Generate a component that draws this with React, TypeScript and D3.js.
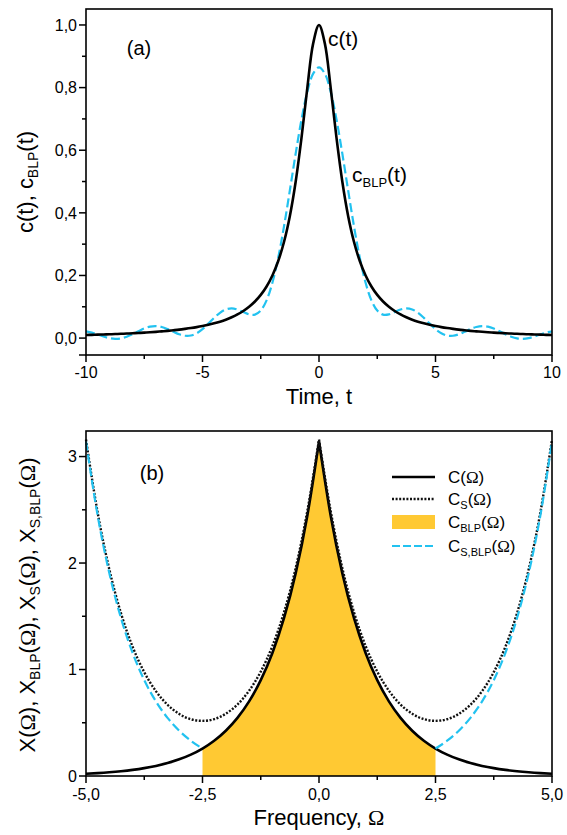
import React from "react";
import * as d3 from "d3";

// ---------- Data ----------
const timeTicks = [-10, -5, 0, 5, 10];
const timeMinor = [-7.5, -2.5, 2.5, 7.5];
const cTicks = [0, 0.2, 0.4, 0.6, 0.8, 1.0];
const cMinor = [0.1, 0.3, 0.5, 0.7, 0.9];

// t grid: -10 .. 10, step 0.25
const tGrid = d3.range(-10, 10.0001, 0.25);
const cValues = [
  0.0099, 0.0104, 0.011, 0.0116, 0.0122, 0.0129, 0.0137, 0.0145, 0.0154, 0.0164,
  0.0175, 0.0187, 0.02, 0.0215, 0.0231, 0.025, 0.027, 0.0294, 0.032, 0.035,
  0.0385, 0.0424, 0.0471, 0.0525, 0.0588, 0.0664, 0.0755, 0.0865, 0.1, 0.1168,
  0.1379, 0.1649, 0.2, 0.2462, 0.3077, 0.3902, 0.5, 0.64, 0.8, 0.9412,
  1.0,
  0.9412, 0.8, 0.64, 0.5, 0.3902, 0.3077, 0.2462, 0.2, 0.1649, 0.1379,
  0.1168, 0.1, 0.0865, 0.0755, 0.0664, 0.0588, 0.0525, 0.0471, 0.0424, 0.0385,
  0.035, 0.032, 0.0294, 0.027, 0.025, 0.0231, 0.0215, 0.02, 0.0187, 0.0175,
  0.0164, 0.0154, 0.0145, 0.0137, 0.0129, 0.0122, 0.0116, 0.011, 0.0104, 0.0099,
];
const cBLPValues = [
  0.0216, 0.0176, 0.0116, 0.0052, -0.0001, -0.0024, -0.0009, 0.0044, 0.0126, 0.0219,
  0.0308, 0.0367, 0.0384, 0.0355, 0.0288, 0.0202, 0.0122, 0.0074, 0.0082, 0.0154,
  0.0287, 0.0461, 0.0647, 0.0808, 0.0915, 0.0949, 0.0913, 0.0832, 0.0757, 0.0749,
  0.0879, 0.1206, 0.1767, 0.2569, 0.3577, 0.472, 0.5897, 0.6987, 0.7871, 0.8447,
  0.8647,
  0.8447, 0.7871, 0.6987, 0.5897, 0.472, 0.3577, 0.2569, 0.1767, 0.1206, 0.0879,
  0.0749, 0.0757, 0.0832, 0.0913, 0.0949, 0.0915, 0.0808, 0.0647, 0.0461, 0.0287,
  0.0154, 0.0082, 0.0074, 0.0122, 0.0202, 0.0288, 0.0355, 0.0384, 0.0367, 0.0308,
  0.0219, 0.0126, 0.0044, -0.0009, -0.0024, -0.0001, 0.0052, 0.0116, 0.0176, 0.0216,
];

const freqTicks = [-5, -2.5, 0, 2.5, 5];
const freqMinor = [-3.75, -1.25, 1.25, 3.75];
const xTicks = [0, 1, 2, 3];
const xMinor = [0.5, 1.5, 2.5];

// Ω grid: -5 .. 5, step 0.25
const wGrid = d3.range(-5, 5.0001, 0.25);
const CValues = [
  0.0212, 0.0272, 0.0349, 0.0448, 0.0575, 0.0739, 0.0949, 0.1218, 0.1564, 0.2008,
  0.2579, 0.3311, 0.4252, 0.5459, 0.701, 0.9001, 1.1557, 1.484, 1.9055, 2.4467,
  3.1416,
  2.4467, 1.9055, 1.484, 1.1557, 0.9001, 0.701, 0.5459, 0.4252, 0.3311, 0.2579,
  0.2008, 0.1564, 0.1218, 0.0949, 0.0739, 0.0575, 0.0448, 0.0349, 0.0272, 0.0212,
];
const CsValues = [
  3.16, 2.474, 1.941, 1.529, 1.214, 0.975, 0.797, 0.669, 0.583, 0.533,
  0.518, 0.534, 0.585, 0.671, 0.801, 0.98, 1.221, 1.539, 1.953, 2.49,
  3.16,
  2.49, 1.953, 1.539, 1.221, 0.98, 0.801, 0.671, 0.585, 0.534, 0.518,
  0.533, 0.583, 0.669, 0.797, 0.975, 1.214, 1.529, 1.941, 2.474, 3.16,
];
const wBLPLeft = [-5, -4.75, -4.5, -4.25, -4, -3.75, -3.5, -3.25, -3, -2.75, -2.5];
const CsBLPLeft = [3.1416, 2.4467, 1.9055, 1.484, 1.1557, 0.9001, 0.701, 0.5459, 0.4252, 0.3311, 0.2579];
const wBLPRight = [2.5, 2.75, 3, 3.25, 3.5, 3.75, 4, 4.25, 4.5, 4.75, 5];
const CsBLPRight = [0.2579, 0.3311, 0.4252, 0.5459, 0.701, 0.9001, 1.1557, 1.484, 1.9055, 2.4467, 3.1416];
const blpBand = [-2.5, 2.5];

const legendLabels = [
  { main: "C", sub: "" },
  { main: "C", sub: "S" },
  { main: "C", sub: "BLP" },
  { main: "C", sub: "S,BLP" },
];

// ---------- Styles ----------
const FONT = "'Liberation Sans', Arial, sans-serif";
const SERIF = "'Liberation Serif', 'DejaVu Serif', serif";
const CYAN = "#22c2f0";
const YELLOW = "#ffc933";
const DOTS = "2,1.6";

const fmtComma = (v: number) => d3.format(".1f")(v).replace(".", ",").replace("−", "-");

export default function App() {
  const xL = 86, xR = 552;
  const topY0 = 9, topY1 = 355;
  const botY0 = 431, botY1 = 776;

  const xt = d3.scaleLinear().domain([-10, 10]).range([xL, xR]);
  const yc = d3.scaleLinear().domain([-0.054, 1.051]).range([topY1, topY0]);
  const xw = d3.scaleLinear().domain([-5, 5]).range([xL, xR]);
  const yw = d3.scaleLinear().domain([0, 3.24]).range([botY1, botY0]);

  const tLine = d3
    .line<[number, number]>()
    .x((d) => xt(d[0]))
    .y((d) => yc(d[1]))
    .curve(d3.curveCatmullRom);

  const cPts = tGrid.map((t, i) => [t, cValues[i]] as [number, number]);
  const cBLPPts = tGrid.map((t, i) => [t, cBLPValues[i]] as [number, number]);

  const wLine = d3
    .line<[number, number]>()
    .x((d) => xw(d[0]))
    .y((d) => yw(d[1]))
    .curve(d3.curveMonotoneX);

  const splitHalves = (vals: number[]) => {
    const pts = wGrid.map((w, i) => [w, vals[i]] as [number, number]);
    return [pts.filter((p) => p[0] <= 0.0001), pts.filter((p) => p[0] >= -0.0001)];
  };
  const CHalves = splitHalves(CValues);
  const CsHalves = splitHalves(CsValues);

  const area = d3
    .area<[number, number]>()
    .x((d) => xw(d[0]))
    .y0(yw(0))
    .y1((d) => yw(d[1]))
    .curve(d3.curveMonotoneX);
  const bandHalves = CHalves.map((h) =>
    h.filter((p) => p[0] >= blpBand[0] - 1e-6 && p[0] <= blpBand[1] + 1e-6)
  );

  const blpL = wBLPLeft.map((w, i) => [w, CsBLPLeft[i]] as [number, number]);
  const blpR = wBLPRight.map((w, i) => [w, CsBLPRight[i]] as [number, number]);

  const tickMajor = 7, tickMinor = 4;
  const legendX0 = 392, legendX1 = 435, legendTX = 448;
  const legendRows = [477, 499, 522, 546];

  return (
    <svg
      width={567}
      height={835}
      style={{ position: "absolute", left: 0, top: 0, background: "#fff" }}
      fontFamily={FONT}
    >
      <rect x={0} y={0} width={567} height={835} fill="#fff" />

      {/* ---------------- Panel (a) ---------------- */}
      <path d={tLine(cBLPPts) || ""} fill="none" stroke={CYAN} strokeWidth={2.2} strokeDasharray="9,4" />
      <path d={tLine(cPts) || ""} fill="none" stroke="#000" strokeWidth={2.6} />
      <rect x={xL} y={topY0} width={xR - xL} height={topY1 - topY0} fill="none" stroke="#000" strokeWidth={1.6} />

      {timeTicks.map((t) => (
        <g key={"tt" + t}>
          <line x1={xt(t)} x2={xt(t)} y1={topY1} y2={topY1 + tickMajor} stroke="#000" strokeWidth={1.5} />
          <text x={xt(t)} y={topY1 + 23} fontSize={16} textAnchor="middle">{d3.format("d")(t).replace("−", "-")}</text>
        </g>
      ))}
      {timeMinor.map((t) => (
        <line key={"tm" + t} x1={xt(t)} x2={xt(t)} y1={topY1} y2={topY1 + tickMinor} stroke="#000" strokeWidth={1.5} />
      ))}
      {cTicks.map((v) => (
        <g key={"ct" + v}>
          <line x1={xL - tickMajor} x2={xL} y1={yc(v)} y2={yc(v)} stroke="#000" strokeWidth={1.5} />
          <text x={xL - 9} y={yc(v)} dy="0.36em" fontSize={16} textAnchor="end">{fmtComma(v)}</text>
        </g>
      ))}
      {cMinor.map((v) => (
        <line key={"cm" + v} x1={xL - tickMinor} x2={xL} y1={yc(v)} y2={yc(v)} stroke="#000" strokeWidth={1.5} />
      ))}
      <line x1={xL - tickMajor} x2={xL} y1={topY1} y2={topY1} stroke="#000" strokeWidth={1.5} />

      <text x={319} y={404} fontSize={22} textAnchor="middle">Time, t</text>
      <text transform="translate(33,182) rotate(-90)" fontSize={22} textAnchor="middle">
        c(t), c<tspan fontSize={14} dy={5}>BLP</tspan><tspan dy={-5}>(t)</tspan>
      </text>
      <text x={139} y={55} fontSize={20} textAnchor="middle">(a)</text>
      <text x={328} y={46} fontSize={21}>c(t)</text>
      <text x={352} y={182} fontSize={21}>
        c<tspan fontSize={13} dy={5}>BLP</tspan><tspan dy={-5}>(t)</tspan>
      </text>

      {/* ---------------- Panel (b) ---------------- */}
      {bandHalves.map((h, i) => (
        <path key={"band" + i} d={area(h) || ""} fill={YELLOW} stroke="none" />
      ))}
      {CHalves.map((h, i) => (
        <path key={"C" + i} d={wLine(h) || ""} fill="none" stroke="#000" strokeWidth={2.6} />
      ))}
      {CsHalves.map((h, i) => (
        <path key={"Cs" + i} d={wLine(h) || ""} fill="none" stroke="#111" strokeWidth={2.4} strokeDasharray={DOTS} />
      ))}
      <path d={wLine(blpL) || ""} fill="none" stroke={CYAN} strokeWidth={2.2} strokeDasharray="9,4" />
      <path d={wLine(blpR) || ""} fill="none" stroke={CYAN} strokeWidth={2.2} strokeDasharray="9,4" />
      <rect x={xL} y={botY0} width={xR - xL} height={botY1 - botY0} fill="none" stroke="#000" strokeWidth={1.6} />

      {freqTicks.map((w) => (
        <g key={"ft" + w}>
          <line x1={xw(w)} x2={xw(w)} y1={botY1} y2={botY1 + tickMajor} stroke="#000" strokeWidth={1.5} />
          <text x={xw(w)} y={botY1 + 24} fontSize={16} textAnchor="middle">{fmtComma(w)}</text>
        </g>
      ))}
      {freqMinor.map((w) => (
        <line key={"fm" + w} x1={xw(w)} x2={xw(w)} y1={botY1} y2={botY1 + tickMinor} stroke="#000" strokeWidth={1.5} />
      ))}
      {xTicks.map((v) => (
        <g key={"xt" + v}>
          <line x1={xL - tickMajor} x2={xL} y1={yw(v)} y2={yw(v)} stroke="#000" strokeWidth={1.5} />
          <text x={xL - 9} y={yw(v)} dy="0.36em" fontSize={16} textAnchor="end">{String(v)}</text>
        </g>
      ))}
      {xMinor.map((v) => (
        <line key={"xm" + v} x1={xL - tickMinor} x2={xL} y1={yw(v)} y2={yw(v)} stroke="#000" strokeWidth={1.5} />
      ))}

      <text x={319} y={825} fontSize={22} textAnchor="middle">
        Frequency, <tspan fontFamily={SERIF}>Ω</tspan>
      </text>
      <text transform="translate(35,605) rotate(-90)" fontSize={22} textAnchor="middle">
        X(<tspan fontFamily={SERIF}>Ω</tspan>), X<tspan fontSize={14} dy={5}>BLP</tspan>
        <tspan dy={-5}>(</tspan><tspan fontFamily={SERIF}>Ω</tspan>), X<tspan fontSize={14} dy={5}>S</tspan>
        <tspan dy={-5}>(</tspan><tspan fontFamily={SERIF}>Ω</tspan>), X<tspan fontSize={14} dy={5}>S,BLP</tspan>
        <tspan dy={-5}>(</tspan><tspan fontFamily={SERIF}>Ω</tspan>)
      </text>
      <text x={152} y={480} fontSize={20} textAnchor="middle">(b)</text>

      {/* Legend */}
      <line x1={legendX0} x2={legendX1} y1={legendRows[0]} y2={legendRows[0]} stroke="#000" strokeWidth={2.6} />
      <line x1={legendX0} x2={legendX1} y1={legendRows[1]} y2={legendRows[1]} stroke="#111" strokeWidth={2.4} strokeDasharray={DOTS} />
      <rect x={legendX0} y={legendRows[2] - 7} width={legendX1 - legendX0} height={14} fill={YELLOW} />
      <line x1={legendX0} x2={legendX1} y1={legendRows[3]} y2={legendRows[3]} stroke={CYAN} strokeWidth={2.2} strokeDasharray="8,3" />
      {legendLabels.map((l, i) => (
        <text key={"lg" + i} x={legendTX} y={legendRows[i] + 6} fontSize={17}>
          {l.main}
          {l.sub ? <tspan fontSize={11} dy={4}>{l.sub}</tspan> : null}
          <tspan dy={l.sub ? -4 : 0}>(</tspan>
          <tspan fontFamily={SERIF}>Ω</tspan>)
        </text>
      ))}
    </svg>
  );
}
